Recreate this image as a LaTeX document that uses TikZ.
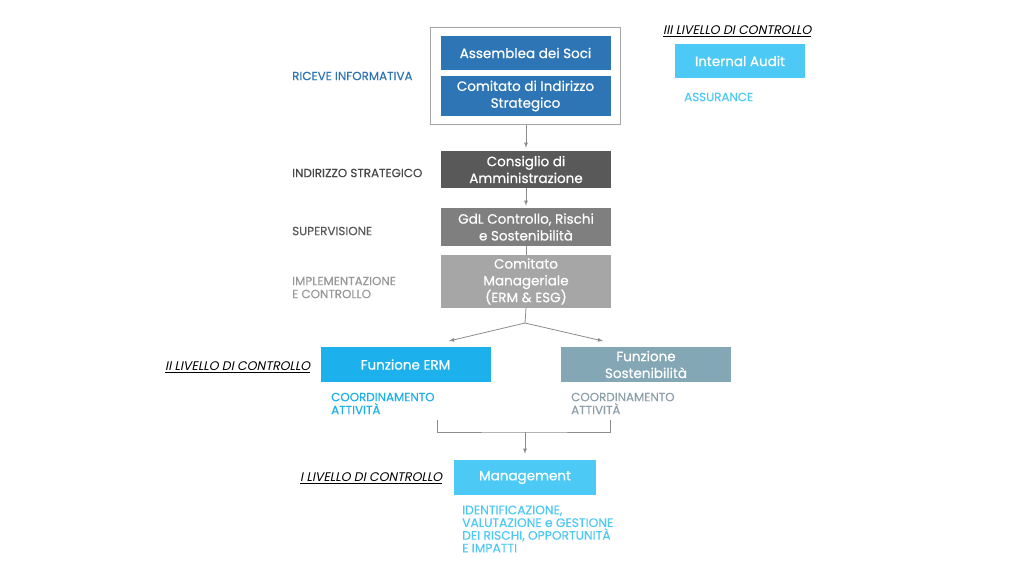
\documentclass[tikz,border=0pt]{standalone}
\usepackage{fontspec}
\setmainfont{Poppins}
\newfontfamily\slfont[FakeSlant=0.2]{Poppins}
\newfontfamily\boxfont[FakeBold=0.6]{Poppins}
\newfontfamily\lblfont[FakeBold=0.2]{Poppins}
\usepackage{xcolor}
\usepackage{tikz}
\usetikzlibrary{calc,fit}

\definecolor{blu}{HTML}{2E75B6}
\definecolor{grigioA}{HTML}{595959}
\definecolor{grigioB}{HTML}{7F7F7F}
\definecolor{grigioC}{HTML}{A6A6A6}
\definecolor{ciano}{HTML}{1CB0EC}
\definecolor{celeste}{HTML}{4DC9F5}
\definecolor{ardesia}{HTML}{84A7B5}
\definecolor{ardesiaT}{HTML}{8C9FA8}
\definecolor{linea}{HTML}{8C8C8C}

\tikzset{
  box/.style={fill=#1, text=white, minimum width=170pt, minimum height=35pt,
    inner sep=0pt, align=center, font=\fontsize{13.5}{16.8}\boxfont},
  lbl/.style={anchor=west, align=left, inner sep=0pt, text=#1, font=\fontsize{11.9}{13}\lblfont},
  livello/.style={anchor=west, inner sep=0pt, font=\fontsize{12.5}{12.5}\slfont},
  conn/.style={draw=linea, line width=0.8pt},
  >=latex
}

\begin{document}
\begin{tikzpicture}[x=1pt,y=-1pt]
\useasboundingbox (0,0) rectangle (1024,575);
\fill[white] (0,0) rectangle (1024,575);

% vertice
\node[box=blu, minimum height=34pt] (assemblea) at (525.5,53) {Assemblea dei Soci};
\node[box=blu, minimum height=40pt] (indirizzo) at (525.5,96) {Comitato di Indirizzo\\Strategico};
\node[draw=grigioB!70, line width=0.8pt, inner xsep=10pt, inner ysep=8pt, fit=(assemblea)(indirizzo)] (soci) {};

\node[box=grigioA, minimum height=37pt] (consiglio) at (526,169.5) {Consiglio di\\Amministrazione};
\node[box=grigioB, minimum height=38pt] (gdl) at (526,227) {GdL Controllo, Rischi\\e Sostenibilit\`a};
\node[box=grigioC, minimum height=53pt] (manageriale) at (526,281.5) {Comitato\\Manageriale\\(ERM \& ESG)};

\node[box=ciano] (erm) at (405.5,364.5) {Funzione ERM};
\node[box=ardesia] (sost) at (646,364.5) {Funzione\\Sostenibilit\`a};
\node[box=celeste, minimum width=142pt] (mgmt) at (525,477.5) {Management};
\node[box=celeste, minimum width=130pt, minimum height=34pt] (audit) at (740,61) {Internal Audit};

% etichette
\node[lbl=blu] (ricevel) at (292,76) {RICEVE INFORMATIVA};
\node[lbl=grigioA!80!black] (indirl) at (292,173) {INDIRIZZO STRATEGICO};
\node[lbl=grigioA] (superl) at (292,231) {SUPERVISIONE};
\node[lbl=grigioB!80] (impll) at (292,287.5) {IMPLEMENTAZIONE\\E CONTROLLO};
\node[lbl=ciano] (coordA) at (331,403.5) {COORDINAMENTO\\ATTIVIT\`A};
\node[lbl=ardesiaT] (coordB) at (571,403.5) {COORDINAMENTO\\ATTIVIT\`A};
\node[lbl=celeste] (assur) at (684,97) {ASSURANCE};
\node[lbl=celeste, font=\fontsize{12.3}{12.7}\lblfont] (identl) at (462,529) {IDENTIFICAZIONE,\\VALUTAZIONE e GESTIONE\\DEI RISCHI, OPPORTUNIT\`A\\E IMPATTI};

\node[livello] (liv3) at (663,31) {\underline{III LIVELLO DI CONTROLLO}};
\node[livello] (liv2) at (165,367) {\underline{II LIVELLO DI CONTROLLO}};
\node[livello] (liv1) at (300,478) {\underline{I LIVELLO DI CONTROLLO}};

% connettori
\coordinate (fork) at (525,323);
\coordinate (ermin) at (449,341);
\coordinate (sostin) at (603,341);
\coordinate (bl) at (437,420);
\coordinate (br) at (610,420);
\coordinate (jn) at (525,432);

\draw[conn, ->, shorten >=3pt] (soci.south -| consiglio) -- (consiglio.north);
\draw[conn, ->, shorten >=2pt] (consiglio) -- (gdl);
\draw[conn] (gdl) -- (manageriale);
\draw[conn] (manageriale.south) -- (fork);
\draw[conn, ->] (fork) -- (ermin);
\draw[conn, ->] (fork) -- (sostin);
\draw[conn] (bl) |- (jn) -| (br);
\draw[conn, ->, shorten >=6pt] (jn) -- (mgmt.north);
\end{tikzpicture}
\end{document}
